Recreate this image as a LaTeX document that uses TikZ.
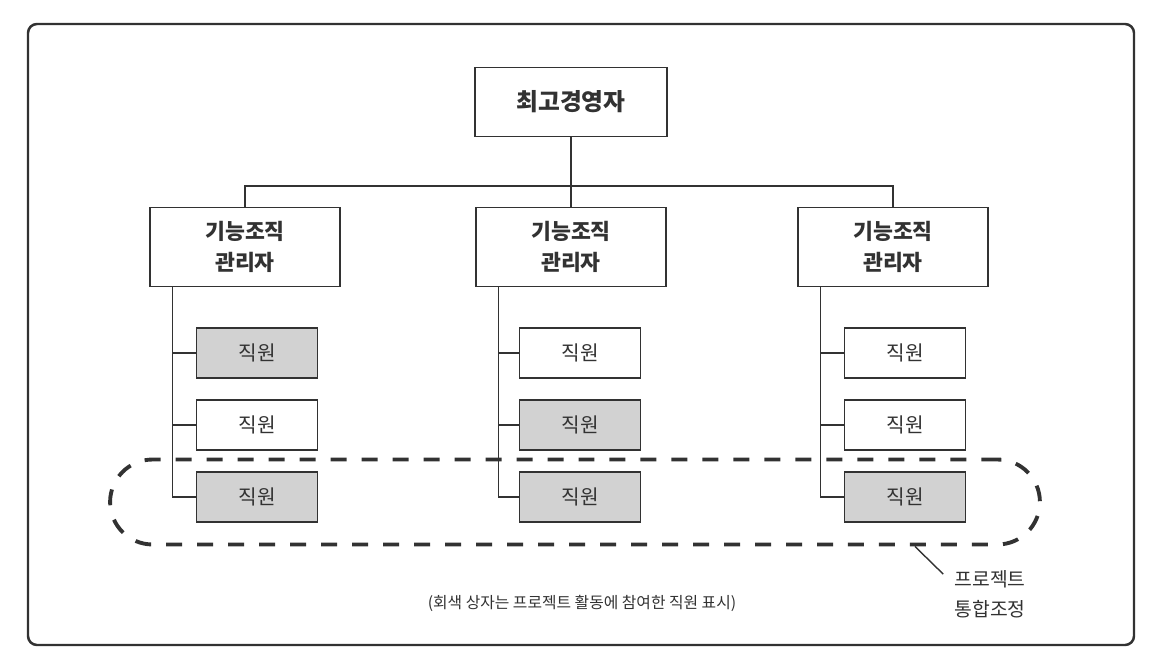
\documentclass[tikz,border=0pt]{standalone}
\usepackage{fontspec}
\setmainfont{Noto Sans CJK KR}
\usetikzlibrary{positioning}
\definecolor{inkgray}{RGB}{50,50,50}
\definecolor{boxgray}{RGB}{210,210,210}
\tikzset{
  link/.style={draw=inkgray, thick},
  topbox/.style={draw=inkgray, thick, fill=white, minimum width=3.84cm, minimum height=1.38cm, align=center, font=\fontsize{13.5}{17}\selectfont\bfseries},
  mgrbox/.style={draw=inkgray, thick, fill=white, minimum width=3.8cm, minimum height=1.58cm, align=center, font=\fontsize{12.3}{17.5}\selectfont\bfseries},
  staffbox/.style={draw=inkgray, thick, fill=white, minimum width=2.42cm, minimum height=1.0cm, align=center, font=\fontsize{11.5}{14}\selectfont},
  staffbox2/.style={staffbox, fill=boxgray},
  groupline/.style={draw=inkgray, line width=2.2pt, dash pattern=on 0.32cm off 0.3cm, rounded corners=0.85cm},
  notetext/.style={text=inkgray, align=center, font=\fontsize{11}{17}\selectfont}
}

\begin{document}
\begin{tikzpicture}[x=0.02cm, y=-0.02cm, text=inkgray]
  \useasboundingbox (0,0) rectangle (1166,672);
  % outer frame
  \draw[draw=inkgray, line width=1.4pt, rounded corners=0.18cm] (28,24) rectangle (1134,645);

  \node[topbox] (ceo) at (571,102) {최고경영자};

  \node[mgrbox] (mgrA) at (245,247) {기능조직\\관리자};
  \node[mgrbox] (mgrB) at (571,247) {기능조직\\관리자};
  \node[mgrbox] (mgrC) at (893,247) {기능조직\\관리자};

  \draw[link] (ceo.south) -- (mgrB.north);
  \draw[link] (mgrA.north) -- ++(0,-21) -| (mgrC.north);

  % staff, column A
  \node[staffbox2] (stA1) at (257,353) {직원};
  \node[staffbox] (stA2) at (257,425) {직원};
  \node[staffbox2] (stA3) at (257,497) {직원};
  % staff, column B
  \node[staffbox] (stB1) at (580,353) {직원};
  \node[staffbox2] (stB2) at (580,425) {직원};
  \node[staffbox2] (stB3) at (580,497) {직원};
  % staff, column C
  \node[staffbox] (stC1) at (905,353) {직원};
  \node[staffbox] (stC2) at (905,425) {직원};
  \node[staffbox2] (stC3) at (905,497) {직원};

  \coordinate (spineA) at ([xshift=0.46cm]mgrA.south west);
  \coordinate (spineB) at ([xshift=0.46cm]mgrB.south west);
  \coordinate (spineC) at ([xshift=0.46cm]mgrC.south west);
  \draw[link] (spineA) |- (stA3.west);
  \draw[link] (stA1.west) -- (stA1.west -| spineA);
  \draw[link] (stA2.west) -- (stA2.west -| spineA);
  \draw[link] (spineB) |- (stB3.west);
  \draw[link] (stB1.west) -- (stB1.west -| spineB);
  \draw[link] (stB2.west) -- (stB2.west -| spineB);
  \draw[link] (spineC) |- (stC3.west);
  \draw[link] (stC1.west) -- (stC1.west -| spineC);
  \draw[link] (stC2.west) -- (stC2.west -| spineC);

  % project group
  \node[groupline, minimum width=18.6cm, minimum height=1.7cm] (proj) at (575,502) {};
  \node[notetext] (projlbl) at (990,594) {프로젝트\\통합조정};
  \draw[draw=inkgray, thick] ([xshift=6.8cm]proj.south) -- ([xshift=-0.1cm,yshift=-0.2cm]projlbl.north west);

  \node[text=inkgray, font=\fontsize{9}{11}\selectfont] (caption) at (582,603) {(회색 상자는 프로젝트 활동에 참여한 직원 표시)};
\end{tikzpicture}
\end{document}
